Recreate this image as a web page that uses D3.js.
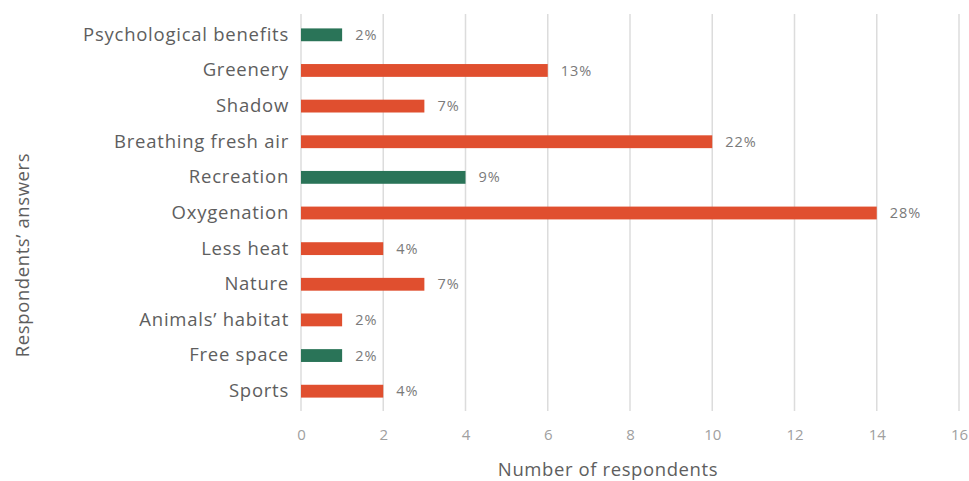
<!DOCTYPE html>
<html>
<head>
<meta charset="utf-8">
<script src="https://cdn.jsdelivr.net/npm/d3@7"></script>
<style>
  html, body { margin: 0; padding: 0; background: #fff; }
  svg { display: block; }
</style>
</head>
<body>
<svg id="chart" width="969" height="481"></svg>
<script>
// Survey answers, top to bottom
const categories = [
  "Psychological benefits", "Greenery", "Shadow", "Breathing fresh air",
  "Recreation", "Oxygenation", "Less heat", "Nature",
  "Animals\u2019 habitat", "Free space", "Sports"
];
const respondents = [1, 6, 3, 10, 4, 14, 2, 3, 1, 1, 2];
const percentLabels = ["2%", "13%", "7%", "22%", "9%", "28%", "4%", "7%", "2%", "2%", "4%"];
const groups = ["g", "o", "o", "o", "g", "o", "o", "o", "o", "g", "o"];
const xTicks = [0, 2, 4, 6, 8, 10, 12, 14, 16];

const colors = { o: "#e04f2f", g: "#2a7458" };
const font = "'Open Sans', sans-serif";

const svg = d3.select("#chart");
const margin = { left: 301, right: 10, top: 17, bottom: 72 };
const W = 969, H = 481;

const x = d3.scaleLinear().domain([0, 16]).range([margin.left, W - margin.right]);
const y = d3.scaleBand().domain(categories)
  .range([margin.top, H - margin.bottom]).paddingInner(0.64).paddingOuter(0.32);

// vertical gridlines
svg.append("g")
  .selectAll("line").data(xTicks).join("line")
  .attr("x1", d => x(d)).attr("x2", d => x(d))
  .attr("y1", 14).attr("y2", 411)
  .attr("stroke", "#dcdcdc").attr("stroke-width", 1.5);

// x axis tick labels
const xAxis = d3.axisBottom(x).tickValues(xTicks).tickSize(0).tickPadding(0);
const gx = svg.append("g").attr("transform", "translate(0,429)").call(xAxis);
gx.select(".domain").remove();
gx.selectAll("text")
  .attr("font-family", font).attr("font-size", 15)
  .attr("fill", "#a0a0a0");

// y axis category labels
const yAxis = d3.axisLeft(y).tickSize(0).tickPadding(12);
const gy = svg.append("g").attr("transform", `translate(${x(0)},0)`).call(yAxis);
gy.select(".domain").remove();
gy.selectAll("text")
  .attr("font-family", font).attr("font-size", 18.5)
  .attr("letter-spacing", 0.75).attr("fill", "#5e5e5e");

// bars
svg.append("g")
  .selectAll("rect").data(categories).join("rect")
  .attr("x", x(0))
  .attr("y", (d, i) => y(d))
  .attr("width", (d, i) => x(respondents[i]) - x(0))
  .attr("height", y.bandwidth())
  .attr("fill", (d, i) => colors[groups[i]]);

// percentage labels
svg.append("g")
  .selectAll("text").data(categories).join("text")
  .attr("x", (d, i) => x(respondents[i]) + 13)
  .attr("y", d => y(d) + y.bandwidth() / 2)
  .attr("dy", "0.35em")
  .attr("font-family", font).attr("font-size", 14.5)
  .attr("letter-spacing", 1).attr("fill", "#7a7a7a")
  .text((d, i) => percentLabels[i]);

// axis titles
svg.append("text")
  .attr("x", 608).attr("y", 476)
  .attr("text-anchor", "middle")
  .attr("font-family", font).attr("font-size", 18.5)
  .attr("letter-spacing", 0.6).attr("fill", "#5e5e5e")
  .text("Number of respondents");

svg.append("text")
  .attr("transform", "translate(29,255) rotate(-90)")
  .attr("text-anchor", "middle")
  .attr("font-family", font).attr("font-size", 18.5)
  .attr("letter-spacing", 0.6).attr("fill", "#5e5e5e")
  .text("Respondents\u2019 answers");
</script>
</body>
</html>
